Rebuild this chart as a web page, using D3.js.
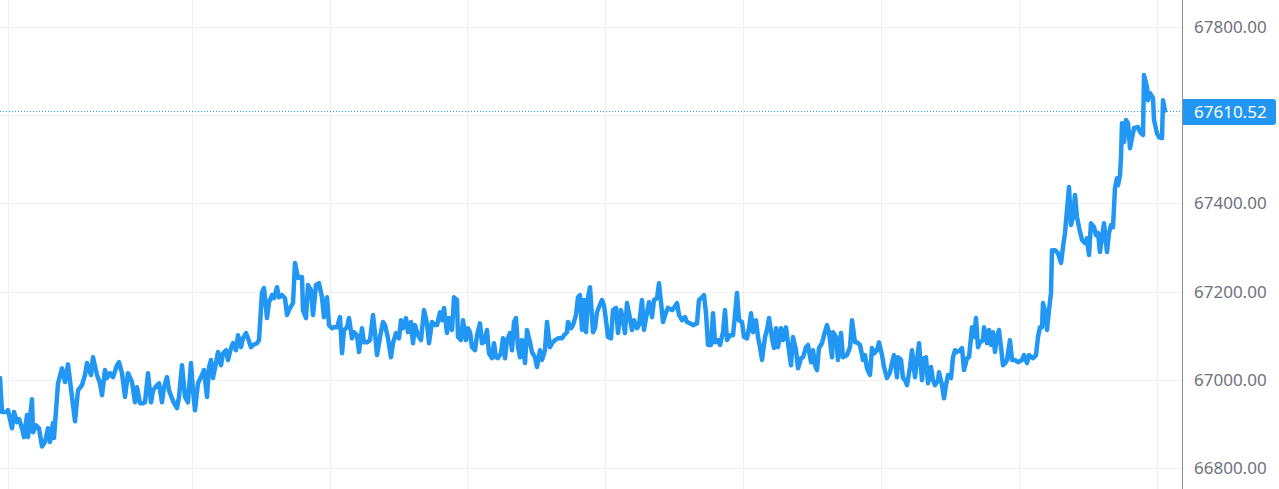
<!DOCTYPE html>
<html>
<head>
<meta charset="utf-8">
<script src="https://cdn.jsdelivr.net/npm/d3@7/dist/d3.min.js"></script>
<style>
  html, body { margin: 0; padding: 0; background: #ffffff; }
  svg { display: block; }
  .tick text { font-family: "Noto Sans", sans-serif; }
</style>
</head>
<body>
<svg id="chart" width="1279" height="489"></svg>
<script>
// bar index (time) and close price
const barIndex = [
  0,2,7,8,12,14,17,19,22,24,27,28,32,33,36,39,42,45,48,50,53,54,58,62,65,68,72,75,78,82,85,87,91,93,
  97,100,102,105,107,110,113,117,119,122,125,128,132,135,137,140,143,145,148,151,153,157,159,162,164,167,169,172,174,177,179,182,185,188,191,193,195,198,202,204,207,209,211,213,216,218,221,223,226,228,231,233,236,238,241,243,246,248,251,253,257,259,262,264,267,269,272,274,277,279,282,285,287,290,293,295,
  298,302,303,306,308,311,313,316,319,322,324,327,329,332,334,337,340,342,344,347,349,352,354,357,359,362,364,367,370,373,375,377,380,383,385,388,391,393,396,399,401,403,406,408,411,413,415,418,421,424,427,429,432,435,437,440,442,444,447,449,452,454,457,458,461,463,466,468,470,472,475,477,480,482,484,487,489,492,494,496,498,501,503,505,507,510,512,514,516,518,520,522,525,527,530,532,535,537,540,542,545,547,550,552,555,558,562,564,567,568,571,573,576,578,
  580,582,584,586,588,590,593,595,597,599,602,604,606,608,611,613,616,618,621,623,625,627,629,632,634,637,639,642,644,647,649,652,654,657,659,661,663,666,668,672,674,677,679,682,685,687,690,693,697,699,702,704,706,708,711,713,715,718,720,723,725,727,730,733,735,737,739,742,744,747,749,751,753,756,758,760,762,765,767,769,772,774,776,778,781,783,786,788,791,793,796,798,801,803,806,808,811,813,815,817,819,822,824,827,829,832,833,836,838,841,843,847,850,852,855,857,860,863,865,867,870,872,
  874,877,879,882,884,887,890,892,894,897,898,901,903,905,907,910,912,915,917,919,922,924,926,928,931,933,935,938,939,942,944,946,948,951,953,955,957,960,962,964,967,969,972,974,976,978,980,983,984,987,989,991,993,995,997,999,1001,1003,1006,1007,1010,1012,1015,1018,1022,1024,1027,1029,1033,1036,1038,1040,1042,1043,1046,1047,1049,1051,1052,1055,1058,1061,1063,1065,1067,1069,1071,1073,1075,1077,1079,1082,1085,1087,1089,1091,1094,1096,1098,1100,1102,1104,1107,1109,1111,1113,1115,1117,1118,1120,1121,1122,1124,1126,1128,1130,1132,1134,1138,1140,1143,1144,1147,1148,1150,1153,1154,1157,1159,1162,1163,1165
];
const closePrice = [
  67004,66927,66927,66931,66890,66927,66904,66911,66890,66870,66920,66870,66956,66881,66897,66890,66849,66859,66890,66859,66902,66868,66992,67026,66995,67035,66961,66906,66976,66988,67011,67038,67011,67051,
  67011,66992,66965,67022,67004,67015,67006,67033,67040,67015,66961,67015,66995,66949,66983,66947,66947,66949,67015,66949,66976,66988,66992,66949,66983,67006,66976,66958,66947,66936,66961,67033,66961,66949,67038,66976,66931,66992,67011,67022,66961,67029,67045,67004,67038,67063,67033,67060,67067,67045,67072,67083,67067,67101,67074,67094,67106,67094,67074,67079,67083,67090,67199,67208,67140,67176,67192,67185,67210,67187,67192,67185,67147,67163,67174,67265,
  67231,67233,67158,67140,67215,67203,67147,67215,67219,67187,67142,67187,67124,67117,67119,67119,67142,67060,67113,67119,67140,67094,67108,67101,67063,67117,67085,67085,67090,67147,67106,67056,67097,67131,67124,67094,67051,67083,67106,67094,67135,67117,67140,67108,67131,67083,67124,67101,67090,67158,67128,67083,67131,67124,67124,67153,67135,67163,67106,67140,67113,67187,67181,67097,67090,67135,67090,67117,67108,67074,67067,67101,67128,67083,67085,67113,67060,67049,67083,67051,67049,67060,67094,67049,67090,67106,67067,67131,67140,67074,67051,67090,67038,67113,67085,67063,67051,67029,67067,67045,67067,67131,67074,67083,67090,67094,67094,67101,67108,67131,67117,67124,67147,67187,
  67192,67113,67181,67108,67187,67210,67108,67117,67153,67165,67181,67169,67135,67097,67094,67158,67163,67106,67158,67135,67106,67174,67151,67113,67135,67117,67124,67181,67113,67153,67176,67142,67181,67185,67219,67176,67131,67153,67163,67158,67163,67174,67147,67135,67142,67131,67128,67124,67128,67181,67187,67192,67151,67079,67079,67151,67085,67090,67079,67108,67158,67090,67101,67101,67147,67197,67135,67131,67097,67094,67117,67151,67108,67135,67097,67074,67045,67097,67113,67140,67094,67072,67117,67074,67117,67090,67119,67083,67033,67097,67067,67026,67049,67051,67074,67079,67040,67067,67033,67022,67072,67083,67101,67124,67108,67051,67108,67097,67045,67106,67051,67056,67074,67135,67085,67085,67079,67045,67056,67026,67011,67072,
  67060,67067,67085,67056,67029,67004,67017,67038,67056,67006,67051,67045,67004,66999,66988,67029,67067,67006,67045,67083,66999,67049,67051,66992,67029,66999,66988,66999,67017,66988,66958,66988,67011,67004,67051,67067,67063,67067,67072,67022,67049,67051,67119,67097,67140,67074,67085,67090,67119,67083,67113,67079,67108,67063,67097,67113,67074,67033,67040,67045,67090,67045,67045,67040,67045,67056,67038,67056,67049,67056,67097,67119,67119,67174,67147,67113,67158,67197,67294,67294,67287,67265,67301,67333,67385,67437,67351,67369,67419,67369,67346,67317,67310,67321,67283,67355,67346,67328,67333,67290,67324,67355,67290,67333,67351,67346,67435,67457,67441,67464,67505,67582,67539,67589,67582,67525,67548,67571,67573,67562,67555,67691,67664,67634,67650,67639,67589,67559,67550,67548,67634,67610.52
];
const gridPrices = [66800, 67000, 67200, 67400, 67600, 67800];
const labelPrices = [66800, 67000, 67200, 67400, 67800]; // 67600 is covered by the last-price tag
const timeGridBars = [8, 192, 330, 467, 605, 743, 881, 1019, 1157];
const lastPrice = 67610.52;

const W = 1279, H = 489;
const plotRight = 1182;
const svg = d3.select("#chart");

const x = d3.scaleLinear().domain([0, 1182]).range([0, plotRight]);
const y = d3.scaleLinear().domain([66800, 67800]).range([468, 27]);

const crisp = v => Math.round(v) + 0.5;
const gridColor = "#eef0f3";

// grid
const grid = svg.append("g");
grid.selectAll("line.v").data(timeGridBars).enter().append("line")
  .attr("x1", d => crisp(x(d))).attr("x2", d => crisp(x(d)))
  .attr("y1", 0).attr("y2", H)
  .attr("stroke", gridColor).attr("stroke-width", 1);
grid.selectAll("line.h").data(gridPrices).enter().append("line")
  .attr("x1", 0).attr("x2", plotRight)
  .attr("y1", d => crisp(y(d))).attr("y2", d => crisp(y(d)))
  .attr("stroke", gridColor).attr("stroke-width", 1);

// price line (dotted)
svg.append("line")
  .attr("x1", 0).attr("x2", plotRight)
  .attr("y1", crisp(y(lastPrice))).attr("y2", crisp(y(lastPrice)))
  .attr("stroke", "#2196F3").attr("stroke-width", 1)
  .attr("stroke-dasharray", "1,2");

// series
const pts = barIndex.map((b, i) => [b, closePrice[i]]);
const line = d3.line().x(d => x(d[0])).y(d => y(d[1]));
svg.append("path")
  .datum(pts)
  .attr("d", line)
  .attr("fill", "none")
  .attr("stroke", "#2196F3")
  .attr("stroke-width", 4.5)
  .attr("stroke-linejoin", "round")
  .attr("stroke-linecap", "round");

// right price axis background
svg.append("rect").attr("x", plotRight).attr("y", 0).attr("width", W - plotRight).attr("height", H).attr("fill", "#ffffff");

const axis = d3.axisRight(y).tickValues(labelPrices).tickSize(0).tickPadding(12).tickFormat(d3.format(".2f"));
const ag = svg.append("g").attr("transform", `translate(${plotRight},0)`).call(axis);
ag.select(".domain").remove();
ag.selectAll(".tick text")
  .attr("fill", "#6f727c")
  .style("font-size", "17px")
  .style("font-family", "'Noto Sans', sans-serif");

svg.append("line")
  .attr("x1", plotRight + 0.5).attr("x2", plotRight + 0.5)
  .attr("y1", 0).attr("y2", H)
  .attr("stroke", "#8a8d94").attr("stroke-width", 1);

// last price label
const ly = y(lastPrice);
const bx = plotRight + 1, bw = 93, bh = 26, r = 3;
const by = Math.round(ly) - 12;
svg.append("path")
  .attr("d", `M${bx},${by} H${bx + bw - r} Q${bx + bw},${by} ${bx + bw},${by + r} V${by + bh - r} Q${bx + bw},${by + bh} ${bx + bw - r},${by + bh} H${bx} Z`)
  .attr("fill", "#2196F3");
svg.append("text")
  .attr("x", plotRight + 12)
  .attr("y", ly + 1)
  .attr("dy", "0.35em")
  .attr("fill", "#ffffff")
  .style("font-size", "17px")
  .style("font-family", "'Noto Sans', sans-serif")
  .text(d3.format(".2f")(lastPrice));
</script>
</body>
</html>
